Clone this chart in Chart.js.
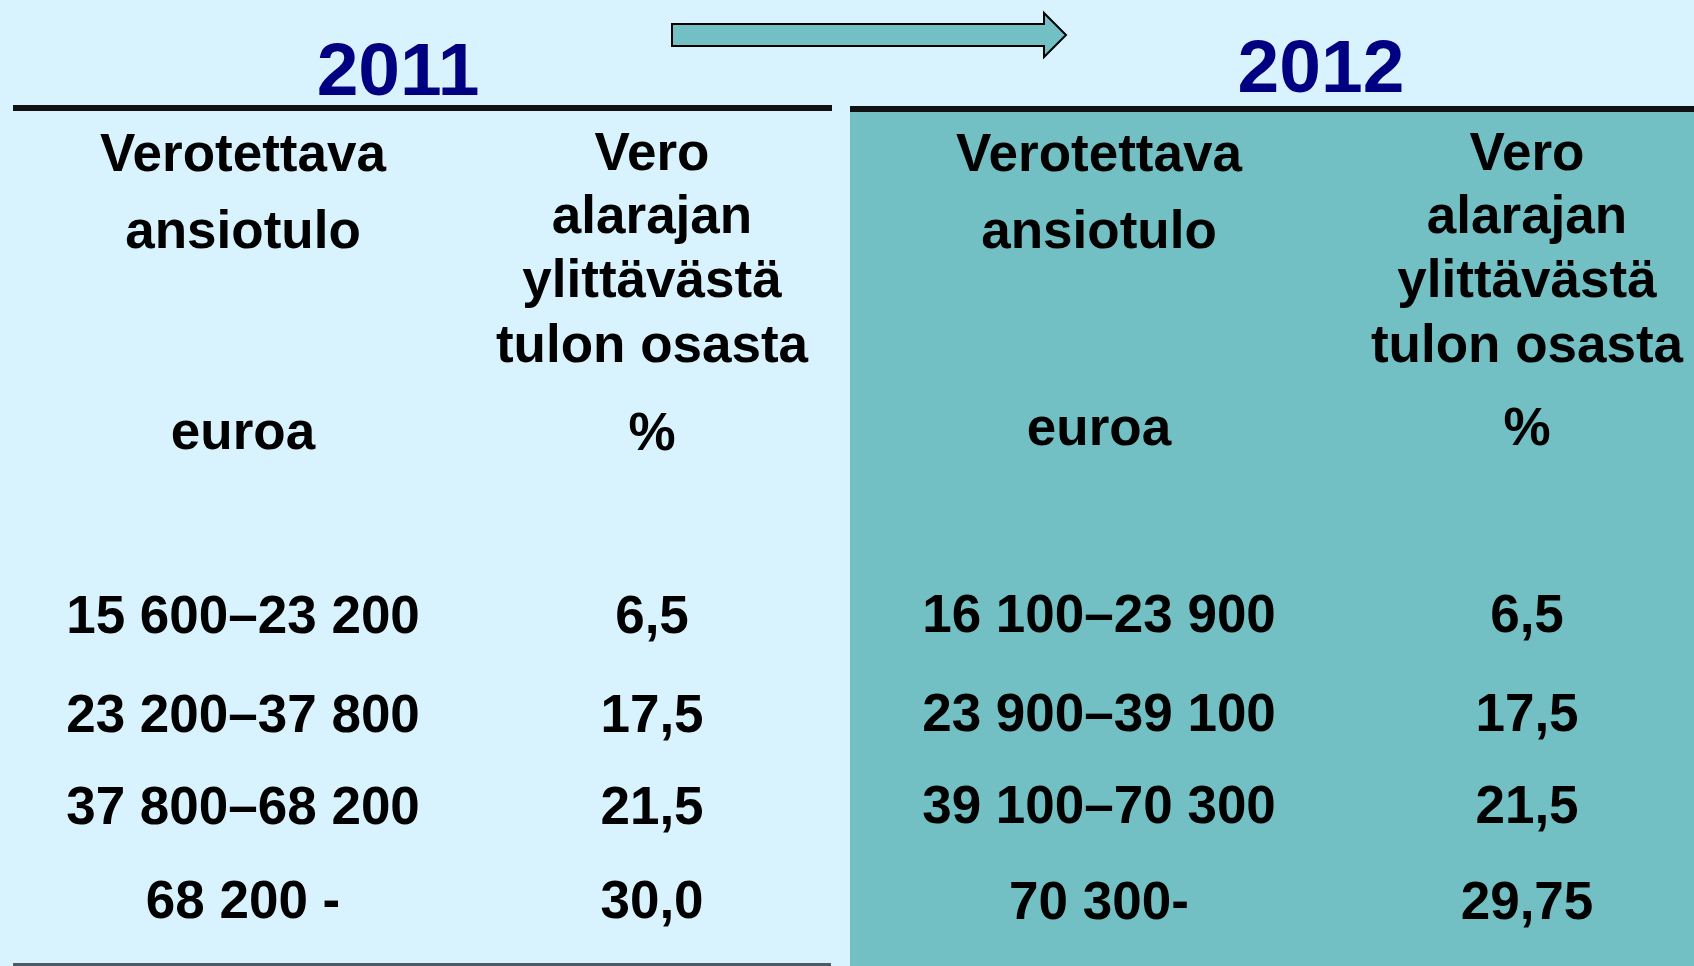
<!DOCTYPE html>
<html>
<head>
<meta charset="utf-8">
<script src="https://cdn.jsdelivr.net/npm/chart.js@4/dist/chart.umd.min.js"></script>
<style>
  html, body { margin: 0; padding: 0; background: #d9f3fe; }
  #wrap { width: 1694px; height: 966px; }
</style>
</head>
<body>
<div id="wrap"><canvas id="taxTable" width="1694" height="966"></canvas></div>
<script>
// table content
const years = ['2011', '2012'];
const incomeHeader = ['Verotettava', 'ansiotulo', 'euroa'];
const rateHeader = ['Vero', 'alarajan', 'ylittävästä', 'tulon osasta', '%'];
const brackets2011 = ['15 600–23 200', '23 200–37 800', '37 800–68 200', '68 200 -'];
const rates2011 = ['6,5', '17,5', '21,5', '30,0'];
const brackets2012 = ['16 100–23 900', '23 900–39 100', '39 100–70 300', '70 300-'];
const rates2012 = ['6,5', '17,5', '21,5', '29,75'];

// layout (pixel units of the page)
const colX = [243, 652, 1099, 1527];
const yearX = [398, 1321];
const yearY = [95, 92];
const incomeHeadY = [[171, 248, 449], [171, 248, 445]];
const rateHeadY = [[170, 233, 297, 362, 450], [170, 233, 297, 362, 445]];
const rowY = [[633, 732, 824, 918], [632, 731, 823, 919]];

const BG = '#d9f3fe';
const TEAL = '#72bfc4';
const FONT = "'Liberation Sans', Arial, sans-serif";

function textSet(labels, xs, ys, opts) {
  return Object.assign({
    labels: labels,
    data: labels.map((_, i) => ({ x: Array.isArray(xs) ? xs[i] : xs, y: ys[i] })),
    pointRadius: 0,
    size: 53,
    color: '#000'
  }, opts || {});
}

const datasets = [
  textSet(years, yearX, yearY, { size: 75, color: '#000080' }),
  textSet(incomeHeader, colX[0], incomeHeadY[0]),
  textSet(rateHeader, colX[1], rateHeadY[0]),
  textSet(incomeHeader, colX[2], incomeHeadY[1]),
  textSet(rateHeader, colX[3], rateHeadY[1]),
  textSet(brackets2011, colX[0], rowY[0]),
  textSet(rates2011, colX[1], rowY[0]),
  textSet(brackets2012, colX[2], rowY[1]),
  textSet(rates2012, colX[3], rowY[1])
];

const backdrop = {
  id: 'backdrop',
  beforeDatasetsDraw(chart) {
    const { ctx, scales: { x, y } } = chart;
    const px = v => x.getPixelForValue(v);
    const py = v => y.getPixelForValue(v);
    ctx.save();
    ctx.fillStyle = BG;
    ctx.fillRect(px(0), py(0), px(1694) - px(0), py(966) - py(0));
    // 2012 panel
    ctx.fillStyle = TEAL;
    ctx.fillRect(px(850), py(112), px(1694) - px(850), py(966) - py(112));
    // rules
    ctx.fillStyle = '#111';
    ctx.fillRect(px(13), py(105), px(832) - px(13), 6);
    ctx.fillRect(px(850), py(106), px(1694) - px(850), 6);
    ctx.fillStyle = '#4b5a63';
    ctx.fillRect(px(13), py(963), px(831) - px(13), 3);
    // arrow
    ctx.beginPath();
    ctx.moveTo(px(672), py(24));
    ctx.lineTo(px(1044), py(24));
    ctx.lineTo(px(1044), py(13));
    ctx.lineTo(px(1066), py(35));
    ctx.lineTo(px(1044), py(57));
    ctx.lineTo(px(1044), py(46));
    ctx.lineTo(px(672), py(46));
    ctx.closePath();
    ctx.fillStyle = TEAL;
    ctx.fill();
    ctx.lineWidth = 2;
    ctx.strokeStyle = '#000';
    ctx.stroke();
    ctx.restore();
  }
};

const cellText = {
  id: 'cellText',
  afterDatasetsDraw(chart) {
    const ctx = chart.ctx;
    ctx.save();
    ctx.textAlign = 'center';
    ctx.textBaseline = 'alphabetic';
    chart.data.datasets.forEach((ds, di) => {
      const meta = chart.getDatasetMeta(di);
      ctx.font = 'bold ' + ds.size + 'px ' + FONT;
      ctx.fillStyle = ds.color;
      meta.data.forEach((pt, i) => {
        ctx.fillText(ds.labels[i], pt.x, pt.y);
      });
    });
    ctx.restore();
  }
};

new Chart(document.getElementById('taxTable'), {
  type: 'scatter',
  data: { datasets: datasets },
  options: {
    responsive: false,
    animation: false,
    layout: { padding: 0 },
    plugins: {
      legend: { display: false },
      tooltip: { enabled: false }
    },
    scales: {
      x: { type: 'linear', min: 0, max: 1694, display: false },
      y: { type: 'linear', min: 0, max: 966, reverse: true, display: false }
    }
  },
  plugins: [backdrop, cellText]
});
</script>
</body>
</html>
